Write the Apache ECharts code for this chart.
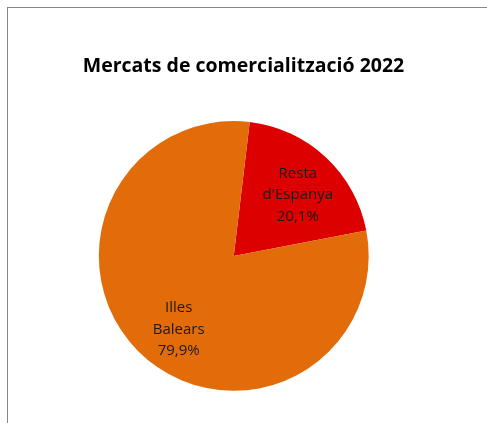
<!DOCTYPE html>
<html>
<head>
<meta charset="utf-8">
<script src="https://cdn.jsdelivr.net/npm/echarts@6/dist/echarts.min.js"></script>
<style>
  html, body { margin: 0; padding: 0; background: #fff; }
  #frame {
    position: absolute; left: 7px; top: 7px; width: 700px; height: 700px;
    border-left: 1px solid #888; border-top: 1px solid #888;
  }
  #chart { position: absolute; left: 0; top: 0; width: 487px; height: 423px; }
</style>
</head>
<body>
<div id="frame"></div>
<div id="chart"></div>
<script>
// data
const categories = ['Resta\nd\'Espanya', 'Illes\nBalears']
const shares = [20.1, 79.9]
const colors = ['#dc0000', '#e36c0a']
// nudges of the inside labels (px)
const labelShift = [[16, -9.5], [-7, 22]]

const chart = echarts.init(document.getElementById('chart'))

let seriesData = []
for (let i = 0; i < categories.length; i++) {
  seriesData.push({
    name: categories[i],
    value: shares[i],
    itemStyle: { color: colors[i] }
  })
}

chart.setOption({
  animation: false,
  title: {
    text: 'Mercats de comercialització 2022',
    left: 'center',
    top: 51,
    textStyle: {
      fontFamily: 'Open Sans',
      fontWeight: 'bold',
      fontSize: 19.5,
      color: '#000'
    }
  },
  series: [{
    type: 'pie',
    center: ['48%', '60.5%'],
    radius: '63.8%',
    startAngle: 83.2,
    clockwise: true,
    data: seriesData,
    label: {
      show: true,
      position: 'inside',
      fontFamily: 'Open Sans',
      fontSize: 15,
      lineHeight: 21.5,
      color: '#1a1a1a',
      formatter: function (p) {
        return p.name + '\n' + p.value.toFixed(1).replace('.', ',') + '%'
      }
    },
    labelLayout: function (params) {
      const s = labelShift[params.dataIndex]
      return { dx: s[0], dy: s[1] }
    },
    labelLine: { show: false },
    itemStyle: { borderWidth: 0 },
    emphasis: { disabled: true }
  }]
})
</script>
</body>
</html>
